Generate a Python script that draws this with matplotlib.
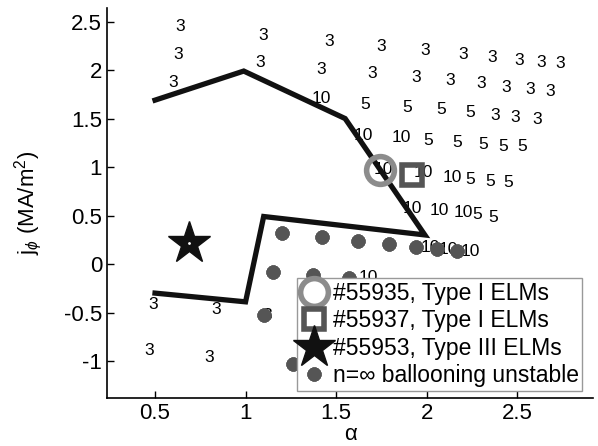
import matplotlib
matplotlib.use("Agg")
import matplotlib.pyplot as plt
from matplotlib.ticker import FormatStrFormatter

plt.rcParams['font.family'] = ['Liberation Sans', 'DejaVu Sans']
plt.rcParams['mathtext.fontset'] = 'custom'
plt.rcParams['mathtext.rm'] = 'Liberation Sans'
plt.rcParams['mathtext.it'] = 'Liberation Sans:italic'

# stability boundary (thick black line)
bound_x = [0.50, 0.99, 1.55, 1.99, 1.10, 1.00, 0.50]
bound_y = [1.69, 1.99, 1.50, 0.30, 0.49, -0.39, -0.30]

# most unstable toroidal mode number labels
lab_x = [0.64, 0.63, 0.60, 1.10, 1.08, 1.46, 1.42, 1.42,
         1.75, 1.70, 1.66, 1.65, 1.76,
         1.99, 1.94, 1.89, 1.86, 1.98, 1.92, 2.02,
         2.20, 2.13, 2.08, 2.01, 2.14, 2.07, 2.12,
         2.36, 2.30, 2.24, 2.17, 2.24, 2.20, 2.24,
         2.51, 2.44, 2.38, 2.31, 2.35, 2.28,
         2.63, 2.57, 2.49, 2.42, 2.45, 2.37,
         2.74, 2.68, 2.61, 2.53,
         0.49, 0.84, 0.47, 0.80, 1.12, 1.68]
lab_y = [2.45, 2.16, 1.87, 2.36, 2.08, 2.29, 2.01, 1.71,
         2.24, 1.96, 1.65, 1.33, 0.97,
         2.20, 1.92, 1.61, 1.30, 0.94, 0.57, 0.17,
         2.16, 1.89, 1.59, 1.27, 0.89, 0.55, 0.15,
         2.13, 1.86, 1.56, 1.25, 0.87, 0.53, 0.13,
         2.10, 1.82, 1.53, 1.23, 0.85, 0.51,
         2.08, 1.80, 1.51, 1.21, 0.84, 0.48,
         2.07, 1.78, 1.49, 1.21,
         -0.42, -0.47, -0.89, -0.96, -0.53, -0.14]
lab_t = ['3', '3', '3', '3', '3', '3', '3', '10',
         '3', '3', '5', '10', '10',
         '3', '3', '5', '10', '10', '10', '10',
         '3', '3', '5', '5', '10', '10', '10',
         '3', '3', '5', '5', '5', '10', '10',
         '3', '3', '3', '5', '5', '5',
         '3', '3', '3', '5', '5', '5',
         '3', '3', '3', '5',
         '3', '3', '3', '3', '3', '10']

# n = infinity ballooning unstable points
ball_x = [1.20, 1.42, 1.62, 1.79, 1.94, 2.06, 2.17, 1.15, 1.37, 1.57, 1.10, 1.26]
ball_y = [0.32, 0.28, 0.24, 0.21, 0.18, 0.15, 0.13, -0.08, -0.11, -0.14, -0.53, -1.03]

# experimental points
s55935 = (1.74, 0.97)
s55937 = (1.92, 0.92)
s55953 = (0.69, 0.22)

fig = plt.figure(figsize=(5.98, 4.46), dpi=100)
ax = fig.add_axes([0.179, 0.108, 0.813, 0.874])

for x, y, t in zip(lab_x, lab_y, lab_t):
    ax.text(x, y, t, fontsize=12.5, ha='center', va='center', zorder=2)

ax.plot(bound_x, bound_y, color='#111111', lw=3.8, zorder=3, solid_joinstyle='miter')

ax.plot(s55935[0], s55935[1], 'o', ms=20, mfc='none', mec='#8c8c8c', mew=4,
        label='#55935, Type I ELMs', zorder=4)
ax.plot(s55937[0], s55937[1], 's', ms=15, mfc='none', mec='#555555', mew=4,
        label='#55937, Type I ELMs', zorder=4)
ax.plot(s55953[0], s55953[1], '*', ms=32, mfc='#111111', mec='#111111',
        label='#55953, Type III ELMs', zorder=4)
ax.plot(s55953[0], s55953[1], '.', ms=2, color='white', zorder=5)
ax.plot(ball_x, ball_y, linestyle='none', marker=(8, 2, 0), ms=10, mew=3.2,
        color='#555555', label='n=∞ ballooning unstable', zorder=3)

ax.set_xlim(0.235, 2.92)
ax.set_ylim(-1.38, 2.64)
ax.set_xticks([0.5, 1, 1.5, 2, 2.5])
ax.set_yticks([-1, -0.5, 0, 0.5, 1, 1.5, 2, 2.5])
ax.xaxis.set_major_formatter(FormatStrFormatter('%g'))
ax.yaxis.set_major_formatter(FormatStrFormatter('%g'))
ax.tick_params(direction='in', length=5, width=1, labelsize=16)
ax.spines['top'].set_visible(False)
ax.spines['right'].set_visible(False)
ax.spines['left'].set_linewidth(1.2)
ax.spines['bottom'].set_linewidth(1.2)

ax.set_xlabel('α', fontsize=16, labelpad=0)
ax.set_ylabel('j$_\\phi$ (MA/m$^2$)', fontsize=16, labelpad=14)

leg = ax.legend(loc='lower left', bbox_to_anchor=(0.391, 0.018), borderaxespad=0,
                fontsize=16.5, handletextpad=0.2, handlelength=1.2,
                borderpad=0.15, labelspacing=0.2, fancybox=False,
                edgecolor='#999999', framealpha=1)
leg.set_zorder(10)
leg.get_frame().set_linewidth(1.0)

fig.savefig('out.png', dpi=100)
